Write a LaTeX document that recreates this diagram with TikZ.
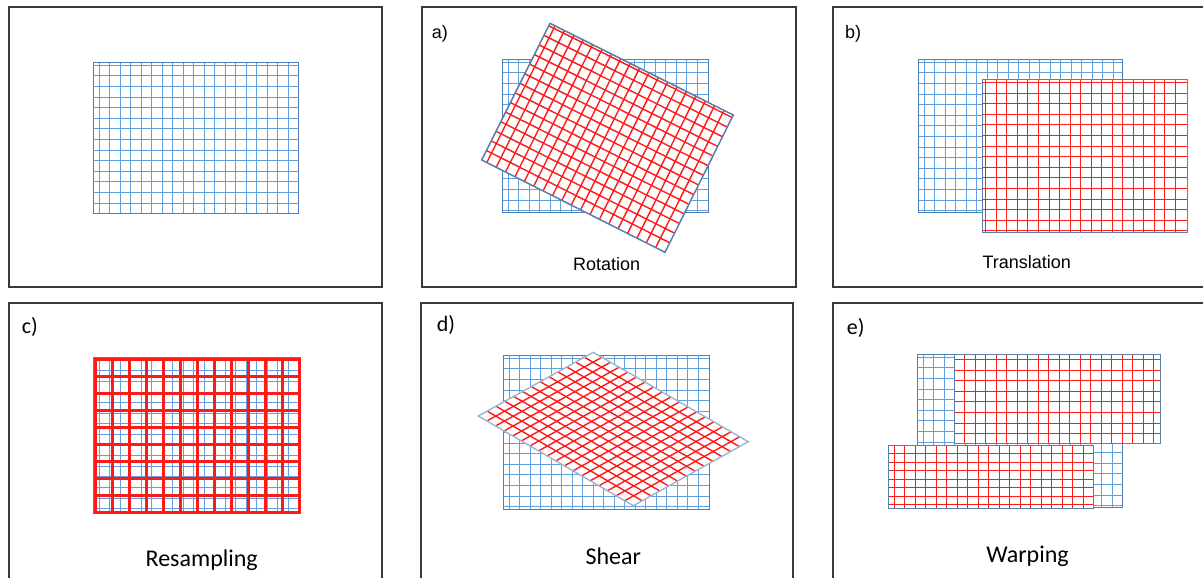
\documentclass[tikz,border=0pt]{standalone}
\usepackage{fontspec}
\setmainfont{Liberation Sans}
\newfontfamily\calfont{Carlito}
\usetikzlibrary{calc}
\definecolor{gblue}{HTML}{62A0DE}
\definecolor{gedge}{HTML}{4F7FBA}
\definecolor{gred}{HTML}{FF1A1A}
\definecolor{steel}{HTML}{5C7FA8}
\definecolor{lsteel}{HTML}{9DB6D0}
\definecolor{framec}{HTML}{3A3A3A}

% corners of an axis-aligned rectangle
\newcommand\setrect[5]{%
  \coordinate (#1tl) at (#2,#3);
  \coordinate (#1tr) at (#4,#3);
  \coordinate (#1bl) at (#2,#5);
  \coordinate (#1br) at (#4,#5);}
% grid lines inside a quadrilateral given by its four named corners
\newcommand\qgrid[6]{%
  \foreach \k in {0,...,30}{%
    \pgfmathsetmacro\tq{#3+\k*#4}%
    \ifdim\tq pt<0.995pt
      \draw[#2] ($(#1tl)!\tq!(#1tr)$) -- ($(#1bl)!\tq!(#1br)$);
    \fi}%
  \foreach \k in {0,...,30}{%
    \pgfmathsetmacro\tq{#5+\k*#6}%
    \ifdim\tq pt<0.995pt
      \draw[#2] ($(#1tl)!\tq!(#1bl)$) -- ($(#1tr)!\tq!(#1br)$);
    \fi}%
}
% pixel-snapped grid lines inside an axis-aligned rectangle
% #1 style, #2 x0, #3 y0, #4 x1, #5 y1, #6 x offset, #7 x step, #8 y offset, #9 y step
\newcommand\agrid[9]{%
  \foreach \k in {0,...,30}{%
    \pgfmathsetmacro\xq{floor(#2+#6+\k*#7)+0.5}%
    \ifdim\xq pt<\dimexpr#4pt-1.5pt\relax
      \draw[#1] (\xq,#3) -- (\xq,#5);
    \fi}%
  \foreach \k in {0,...,30}{%
    \pgfmathsetmacro\yq{floor(#3+#8+\k*#9)+0.5}%
    \ifdim\yq pt<\dimexpr#5pt-1.5pt\relax
      \draw[#1] (#2,\yq) -- (#4,\yq);
    \fi}%
}
\newcommand\quadpath[1]{(#1tl) -- (#1tr) -- (#1br) -- (#1bl) -- cycle}
% standard blue grid: #1 name, #2..#5 x0 y0 x1 y1
\newcommand\bluegrid[5]{%
  \setrect{#1}{#2}{#3}{#4}{#5}
  \fill[white] \quadpath{#1};
  \agrid{bline}{#2}{#3}{#4}{#5}{5.7}{10.5}{2.7}{10.6}
  \draw[bedge] \quadpath{#1};}

\begin{document}
\begin{tikzpicture}[x=1pt,y=-1pt,
  panel/.style={draw=framec, line width=1.8pt},
  bline/.style={draw=gblue, line width=1.5pt},
  rline/.style={draw=gred, line width=1.4pt},
  rthick/.style={draw=gred, line width=2.8pt},
  bedge/.style={draw=gedge, line width=1.7pt},
  redge/.style={draw=steel, line width=1.5pt},
  ledge/.style={draw=lsteel, line width=1.4pt},
  arial/.style={inner sep=0pt, font=\fontsize{18}{20}\selectfont},
  calib/.style={inner sep=0pt, font=\calfont\fontsize{24}{28}\selectfont},
  calibs/.style={inner sep=0pt, font=\calfont\fontsize{22}{26}\selectfont}]
\useasboundingbox (0,0) rectangle (1203,578);
\clip (0,0) rectangle (1203,578);

% ---------- panel frames ----------
\draw[panel] (9,7) rectangle (382,287);
\draw[panel] (422,7) rectangle (796,287);
\draw[panel] (833,7) rectangle (1215,287);
\draw[panel] (9,303) rectangle (382,590);
\draw[panel] (421,303) rectangle (793,590);
\draw[panel] (833,303) rectangle (1215,590);

% ---------- panel 1: original ----------
\bluegrid{o}{93.5}{62.5}{298.5}{213.5}

% ---------- panel a: rotation ----------
\bluegrid{ab}{502.5}{59.5}{708.5}{212.5}
\coordinate (artl) at (550,23.3);
\coordinate (artr) at (733.3,115);
\coordinate (arbr) at (665,252.3);
\coordinate (arbl) at (481.7,160);
\fill[white] \quadpath{ar};
\qgrid{ar}{rline}{0.0278}{0.0512}{0.018}{0.0702}
\draw[redge] \quadpath{ar};
\node[arial, anchor=base west] (la) at (431.7,38.3) {a)};
\node[arial, anchor=base] (trot) at (606.7,270.7) {Rotation};

% ---------- panel b: translation ----------
\bluegrid{bb}{918.5}{59.5}{1122.5}{212.5}
\setrect{br}{982.5}{79.5}{1187.5}{232.5}
\fill[white] \quadpath{br};
\agrid{rline}{982.5}{79.5}{1187.5}{232.5}{3.3}{10.54}{3}{10.6}
\draw[redge] \quadpath{br};
\node[arial, anchor=base west] (lb) at (845,38.3) {b)};
\node[arial, anchor=base] (ttr) at (1026.7,268) {Translation};

% ---------- panel c: resampling ----------
\bluegrid{cb}{93.5}{357.5}{300.5}{513.5}
\setrect{cr}{95.5}{359.5}{299.5}{512.5}
\agrid{rthick}{95.5}{359.5}{299.5}{512.5}{17}{17}{17}{17}
\draw[rthick] \quadpath{cr};
\node[calibs, anchor=base west] (lc) at (21.7,333.3) {c)};
\node[calib, anchor=base] (tres) at (201.7,566.5) {Resampling};

% ---------- panel d: shear ----------
\bluegrid{db}{503.5}{355.5}{709.5}{509.5}
\coordinate (drtl) at (593.3,352.3);
\coordinate (drtr) at (748.3,441.7);
\coordinate (drbr) at (633.3,505.7);
\coordinate (drbl) at (478.3,416);
\fill[white] \quadpath{dr};
\qgrid{dr}{rline}{0.05556}{0.05556}{0.07692}{0.07692}
\draw[ledge] \quadpath{dr};
\node[calibs, anchor=base west] (ld) at (436.7,331.7) {d)};
\node[calib, anchor=base] (tsh) at (613.3,564) {Shear};

% ---------- panel e: warping ----------
\bluegrid{eb}{917.5}{354.5}{1122.5}{507.5}
\setrect{eu}{954.5}{354.5}{1160.5}{443.5}
\fill[white] \quadpath{eu};
\agrid{rline}{954.5}{354.5}{1160.5}{443.5}{10.3}{10.5}{5}{10.6}
\draw[redge] \quadpath{eu};
\setrect{el}{888.5}{445.5}{1093.5}{508.5}
\fill[white] \quadpath{el};
\agrid{rline}{888.5}{445.5}{1093.5}{508.5}{5.7}{10.5}{8.2}{8.5}
\draw[redge] \quadpath{el};
\node[calibs, anchor=base west] (le) at (846.7,334) {e)};
\node[calib, anchor=base] (twa) at (1027.5,562) {Warping};
\end{tikzpicture}
\end{document}
